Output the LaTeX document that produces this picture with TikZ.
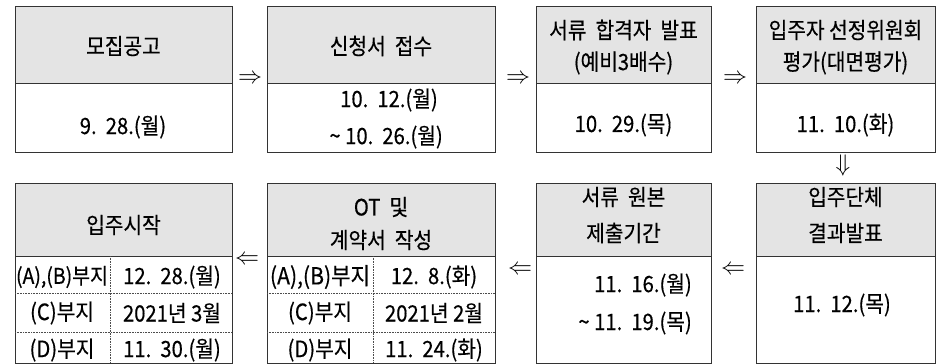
\documentclass[tikz,border=0pt]{standalone}
\usepackage{graphicx}
\usepackage{fontspec}
\setmainfont[FakeStretch=0.9,FakeBold=0.4]{Noto Sans CJK KR}
\definecolor{hdrgray}{HTML}{E4E4E4}
\definecolor{linegray}{HTML}{333333}
\begin{document}
\begin{tikzpicture}[x=1pt,y=-1pt,
  box/.style={draw=linegray, line width=0.9pt, inner sep=0pt, outer sep=0pt, anchor=north west},
  hdr/.style={box, fill=hdrgray},
  lbl/.style={font=\fontsize{22.5}{25}\selectfont, inner sep=0pt, anchor=center},
  dsep/.style={draw=black!70, line width=0.6pt, densely dotted},
  arr/.style={inner sep=0pt, font=\fontsize{10}{12}\selectfont}]
\useasboundingbox (0,0) rectangle (945,364);
% ---------- top row ----------
\node[hdr, minimum width=217pt, minimum height=77pt] (h1) at (15,6) {};
\node[box, minimum width=217pt, minimum height=69pt] (b1) at (15,83) {};
\node[hdr, minimum width=228pt, minimum height=77pt] (h2) at (267,6) {};
\node[box, minimum width=228pt, minimum height=69pt] (b2) at (267,83) {};
\node[hdr, minimum width=175pt, minimum height=77pt] (h3) at (536,6) {};
\node[box, minimum width=175pt, minimum height=69pt] (b3) at (536,83) {};
\node[hdr, minimum width=179pt, minimum height=77pt] (h4) at (756,6) {};
\node[box, minimum width=179pt, minimum height=69pt] (b4) at (756,83) {};
% ---------- bottom row ----------
\node[hdr, minimum width=217pt, minimum height=73pt] (h8) at (15,183) {};
\node[box, minimum width=217pt, minimum height=107pt] (b8) at (15,256) {};
\node[hdr, minimum width=228pt, minimum height=73pt] (h7) at (267,183) {};
\node[box, minimum width=228pt, minimum height=107pt] (b7) at (267,256) {};
\node[hdr, minimum width=175pt, minimum height=73pt] (h6) at (536,183) {};
\node[box, minimum width=175pt, minimum height=107pt] (b6) at (536,256) {};
\node[hdr, minimum width=179pt, minimum height=73pt] (h5) at (756,183) {};
\node[box, minimum width=179pt, minimum height=107pt] (b5) at (756,256) {};
% dotted table lines
\draw[dsep] (15,293) -- (232,293);
\draw[dsep] (15,332) -- (232,332);
\draw[dsep] (110,256) -- (110,363);
\draw[dsep] (267,293) -- (495,293);
\draw[dsep] (267,332) -- (495,332);
\draw[dsep] (373,256) -- (373,363);
% ---------- texts top ----------
\node[lbl] (t1h) at (123.5,46) {모집공고};
\node[lbl] (t1b) at (123,127) {9.\ \ 28.(월)};
\node[lbl] (t2h) at (381,46) {신청서\ \ 접수};
\node[lbl, anchor=east] (t2b1) at (438,100) {10.\ \ 12.(월)};
\node[lbl, anchor=east] (t2b2) at (443,137) {\textasciitilde\ 10.\ \ 26.(월)};
\node[lbl] (t3h1) at (623.5,30) {서류\ \ 합격자\ \ 발표};
\node[lbl] (t3h2) at (623.5,63) {(예비3배수)};
\node[lbl] (t3b) at (623.5,125) {10.\ \ 29.(목)};
\node[lbl] (t4h1) at (845.5,30) {입주자\ 선정위원회};
\node[lbl] (t4h2) at (845.5,63) {평가(대면평가)};
\node[lbl] (t4b) at (845.5,125) {11.\ \ 10.(화)};
% ---------- texts bottom ----------
\node[lbl] (t8h) at (123.5,225) {입주시작};
\node[lbl] (t8a1) at (62,277) {\resizebox{92pt}{!}{(A),(B)부지}};
\node[lbl] (t8a2) at (172,277) {12.\ \ 28.(월)};
\node[lbl] (t8b1) at (62,313) {(C)부지};
\node[lbl] (t8b2) at (172,313) {2021년 3월};
\node[lbl] (t8c1) at (62,350) {(D)부지};
\node[lbl] (t8c2) at (172,350) {11.\ \ 30.(월)};
\node[lbl] (t7h1) at (381,207) {OT\ \ 및};
\node[lbl] (t7h2) at (381,240) {계약서\ \ 작성};
\node[lbl] (t7a1) at (320,277) {\resizebox{100pt}{!}{(A),(B)부지}};
\node[lbl] (t7a2) at (434,277) {12.\ \ 8.(화)};
\node[lbl] (t7b1) at (320,313) {(C)부지};
\node[lbl] (t7b2) at (434,313) {2021년 2월};
\node[lbl] (t7c1) at (320,350) {(D)부지};
\node[lbl] (t7c2) at (434,350) {11.\ \ 24.(화)};
\node[lbl] (t6h1) at (623.5,197) {서류\ \ 원본};
\node[lbl] (t6h2) at (623.5,233) {제출기간};
\node[lbl, anchor=east] (t6b1) at (692,285) {11.\ \ 16.(월)};
\node[lbl, anchor=east] (t6b2) at (692,323) {\textasciitilde\ 11.\ \ 19.(목)};
\node[lbl] (t5h1) at (845.5,197) {입주단체};
\node[lbl] (t5h2) at (845.5,233) {결과발표};
\node[lbl] (t5b) at (842,305) {11.\ \ 12.(목)};
% ---------- arrows ----------
\node[arr] (a12) at (250,79) {\scalebox{2.4}{$\Rightarrow$}};
\node[arr] (a23) at (518,79) {\scalebox{2.4}{$\Rightarrow$}};
\node[arr] (a34) at (735,79) {\scalebox{2.4}{$\Rightarrow$}};
\node[arr] (a45) at (843,165) {\scalebox{2.4}{$\Downarrow$}};
\node[arr] (a56) at (733,270) {\scalebox{2.4}{$\Leftarrow$}};
\node[arr] (a67) at (520,270) {\scalebox{2.4}{$\Leftarrow$}};
\node[arr] (a78) at (247,260) {\scalebox{2.4}{$\Leftarrow$}};
\end{tikzpicture}
\end{document}
